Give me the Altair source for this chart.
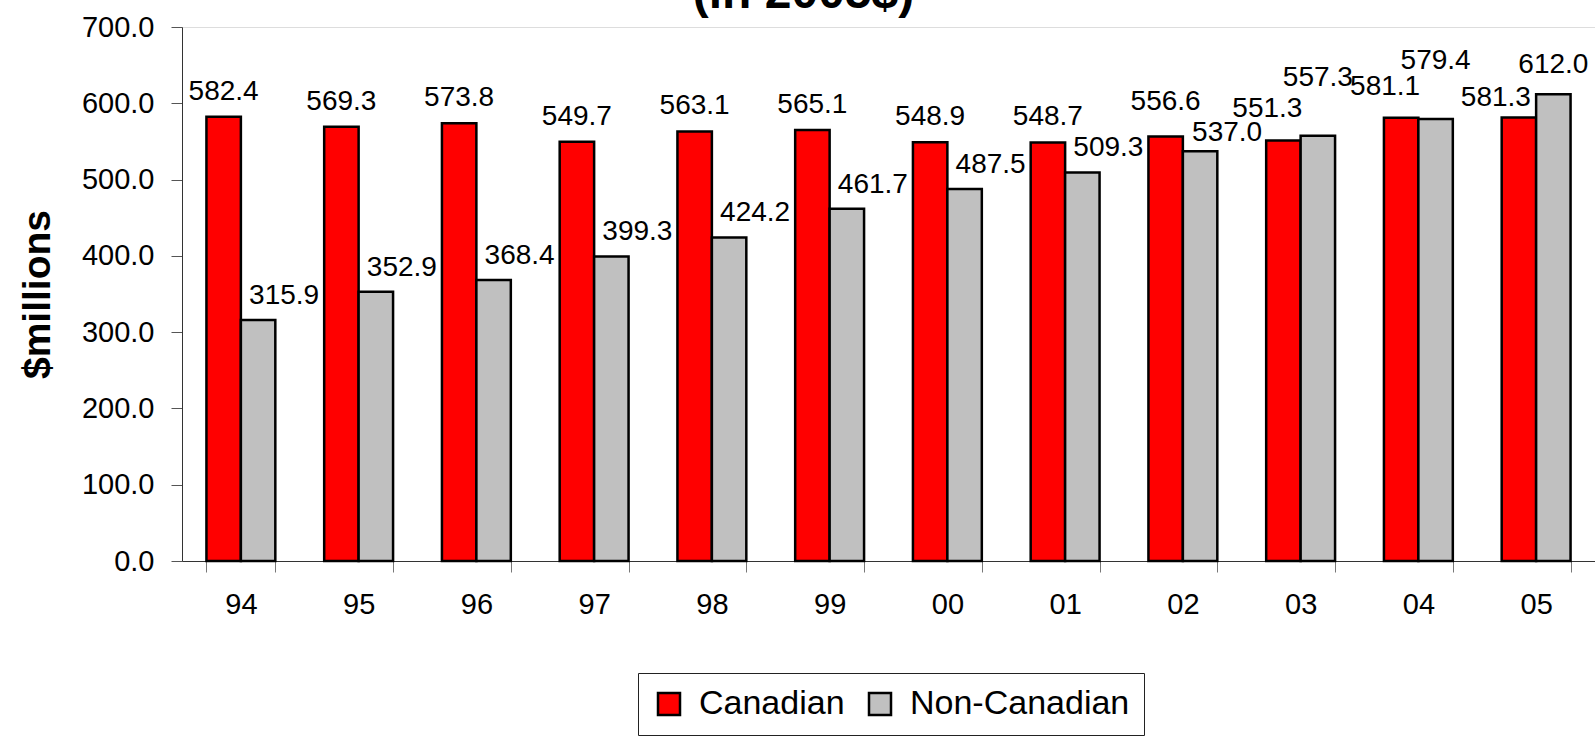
import altair as alt
import pandas as pd

years = ["94", "95", "96", "97", "98", "99", "00", "01", "02", "03", "04", "05"]
canadian = [582.4, 569.3, 573.8, 549.7, 563.1, 565.1, 548.9, 548.7, 556.6, 551.3, 581.1, 581.3]
non_canadian = [315.9, 352.9, 368.4, 399.3, 424.2, 461.7, 487.5, 509.3, 537.0, 557.3, 579.4, 612.0]
series = ["Canadian", "Non-Canadian"]
colors = ["#FF0000", "#C0C0C0"]
y_ticks = [0, 100, 200, 300, 400, 500, 600, 700]


def pair_group(c, n):
    # classify how close the two bar tops of a year are, to keep labels apart
    d = c - n
    if abs(d) < 15:
        return "tight"
    if 0 < d < 35:
        return "rclose"
    if -35 < d < 0:
        return "gclose"
    return "normal"


rows = []
for yr, c, n in zip(years, canadian, non_canadian):
    g = pair_group(c, n)
    rows.append({"year": yr, "series": series[0], "value": c, "grp": g})
    rows.append({"year": yr, "series": series[1], "value": n, "grp": g})
df = pd.DataFrame(rows)

FONT = "Liberation Sans"

x_enc = alt.X("year:N", sort=years,
              scale=alt.Scale(paddingInner=0.415, paddingOuter=0.2075),
              axis=alt.Axis(title=None, labelAngle=0, tickBand="extent", tickSize=11,
                            labelPadding=18, labelFontSize=29, labelFont=FONT,
                            labelColor="black", domainColor="#333333",
                            tickColor="#777777", grid=False))
xo_enc = alt.XOffset("series:N", scale=alt.Scale(domain=series, paddingInner=0, paddingOuter=0))
y_enc = alt.Y("value:Q",
              scale=alt.Scale(domain=[0, 700], nice=False),
              axis=alt.Axis(title="$millions", values=y_ticks, format=".1f", grid=False,
                            tickSize=11, labelPadding=17, labelFontSize=29, labelFont=FONT,
                            labelColor="black", domainColor="#333333", tickColor="#555555",
                            titleFont=FONT, titleFontSize=39, titleFontWeight="bold",
                            titleColor="black", titlePadding=24))

bars = alt.Chart(df).mark_bar(stroke="black", strokeWidth=2.5).encode(
    x=x_enc,
    xOffset=xo_enc,
    y=y_enc,
    color=alt.Color("series:N",
                    scale=alt.Scale(domain=series, range=colors),
                    legend=alt.Legend(title=None, orient="none", legendX=456, legendY=646,
                                      direction="horizontal", strokeColor="#222222",
                                      fillColor="white", padding=14,
                                      symbolType="square", symbolSize=484,
                                      symbolStrokeColor="black", symbolStrokeWidth=2.5,
                                      labelFontSize=34, labelFont=FONT, labelColor="black",
                                      labelLimit=600, labelOffset=13, columnPadding=18)),
)


def labels(ser, groups, dx, dy):
    cond = " || ".join(f"datum.grp == '{g}'" for g in groups)
    return alt.Chart(df).transform_filter(
        f"datum.series == '{ser}' && ({cond})"
    ).mark_text(
        font=FONT, fontSize=28, color="black", baseline="middle", align="center",
        dx=dx, dy=dy,
    ).encode(
        x=alt.X("year:N", sort=years),
        xOffset=alt.XOffset("series:N"),
        y=alt.Y("value:Q"),
        text=alt.Text("value:Q", format=".1f"),
    )


layers = [
    bars,
    labels("Canadian", ["normal"], 0, -25),
    labels("Canadian", ["rclose"], 0, -34),
    labels("Canadian", ["tight"], -16, -31),
    labels("Canadian", ["gclose"], -23, -20),
    labels("Non-Canadian", ["normal"], 26, -24),
    labels("Non-Canadian", ["rclose"], 27, -18),
    labels("Non-Canadian", ["tight"], 0, -58),
    labels("Non-Canadian", ["gclose"], 0, -29),
]

chart = alt.layer(*layers).properties(
    width=1413,
    height=534,
    title=alt.TitleParams("(in 2005$)", fontSize=48, fontWeight="bold", font=FONT,
                          color="black", anchor="middle", frame="group",
                          baseline="bottom", offset=0, dx=-85, dy=53),
    autosize=alt.AutoSizeParams(type="none"),
    padding={"left": 182, "top": 27, "right": 0, "bottom": 178},
).configure_view(strokeWidth=0).configure(background="white")

chart.save("out.html", embed_options={"renderer": "svg", "actions": False})
